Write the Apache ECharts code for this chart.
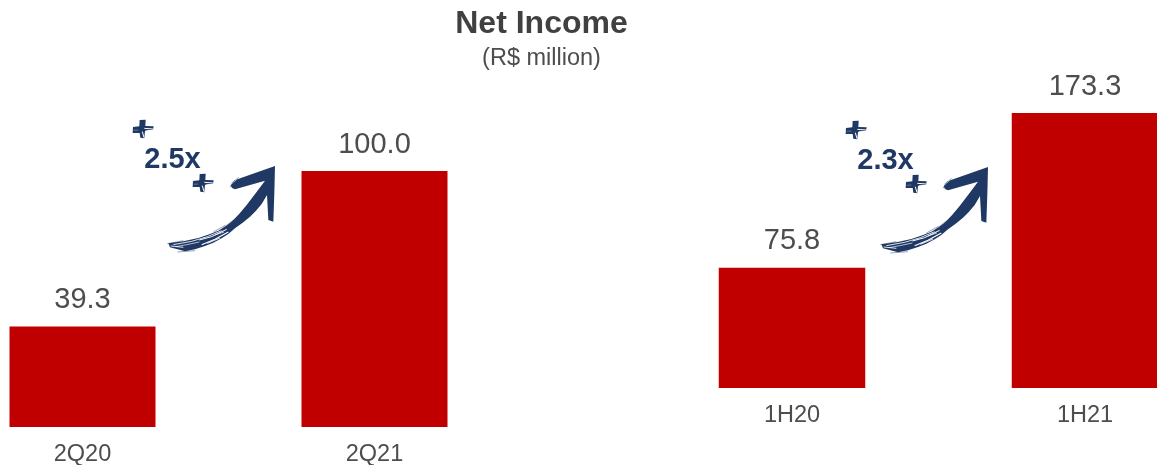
<!DOCTYPE html>
<html>
<head>
<meta charset="utf-8">
<style>html,body{margin:0;padding:0;background:#fff}#chart{width:1157px;height:465px}</style>
<script src="https://cdn.jsdelivr.net/npm/echarts@6/dist/echarts.min.js"></script>
</head>
<body>
<div id="chart"></div>
<script>
// Net income, quarter and half-year comparison (R$ million)
const quarterLabels = ['2Q20', '2Q21'];
const quarterValues = [39.3, 100.0];
const halfLabels = ['1H20', '1H21'];
const halfValues = [75.8, 173.3];
const quarterGrowth = '2.5x';
const halfGrowth = '2.3x';

const NAVY = '#1F3864';
const RED = '#C00000';
const TITLE = '#404040';
const TEXT = '#4D4D4D';
const FONT = '"Liberation Sans", Arial, sans-serif';

// Brush arrow outline, in units three times the screen size
const arrowBody = [
  [145,430],[190,424],[235,414],[268,403],[295,392],[318,378],[335,365],[358,341],[380,315],[408,278],[435,242],
  [345,268],[336,264],[332,256],[340,248],[352,238],[465,198],[464,240],[463,280],[460,365],[445,360],
  [441,285],[425,312],[408,332],[390,350],[368,368],[345,385],[325,402],[305,415],[280,428],[255,438],[225,448],[195,454],[150,442]
];
// Dry-brush gaps through the tail of the stroke
const arrowGaps = [
  [[160,434],[215,424],[262,410],[305,392]],
  [[168,440],[200,434],[238,426]],
  [[238,420],[275,410],[320,388]],
  [[245,434],[285,418],[325,396]],
  [[152,438],[190,442]],
  [[262,430],[300,414]],
  [[285,405],[312,396]]
];
const gapWidths = [2.5, 2, 3, 3.5, 2.5, 2.5, 2];
// Loose bristle marks around the tail and the start of the barb
const arrowBristles = [
  [[142,431],[190,422]], [[172,456],[225,452]], [[280,396],[316,376]], [[300,392],[340,360]],
  [[334,250],[356,232]], [[330,262],[345,240]], [[345,262],[352,238]]
];
// White flecks across the plus signs
const plusFlecks = [
  [[4,-2],[30,0]], [[-2,8],[3,26]], [[8,6],[26,4]]
];

function brushPlus(x, y) {
  const flecks = plusFlecks.map(points => ({
    type: 'polyline', shape: { points }, style: { stroke: '#fff', lineWidth: 3, fill: null }
  }));
  return {
    type: 'group', x, y, scaleX: 1 / 3, scaleY: 1 / 3,
    children: [
      { type: 'polygon', shape: { points: [[-30,-6],[-11,-8],[-10,-27],[8,-28],[7,-9],[32,-8],[30,2],[6,6],[4,28],[-8,26],[-10,12],[-31,12]] }, style: { fill: NAVY } },
      ...flecks,
      { type: 'polyline', shape: { points: [[-28,4],[-14,3]] }, style: { stroke: '#8090b0', lineWidth: 2, fill: null } }
    ]
  };
}

function brushArrow(x, y) {
  const gaps = arrowGaps.map((points, i) => ({
    type: 'polyline', shape: { points }, style: { stroke: '#fff', lineWidth: gapWidths[i], fill: null }
  }));
  const bristles = arrowBristles.map(points => ({
    type: 'polyline', shape: { points }, style: { stroke: NAVY, lineWidth: 2, fill: null, opacity: 0.7 }
  }));
  return {
    type: 'group', x, y, scaleX: 1 / 3, scaleY: 1 / 3,
    children: [{ type: 'polygon', shape: { points: arrowBody }, style: { fill: NAVY } }, ...gaps, ...bristles]
  };
}

function growthBadge(label, dx, dy) {
  return [
    brushArrow(120 + dx, 100 + dy),
    brushPlus(143 + dx, 129 + dy),
    brushPlus(203 + dx, 183 + dy),
    { type: 'text', x: 172.5 + dx, y: 160 + dy,
      style: { text: label, fill: NAVY, font: 'bold 29px ' + FONT, textAlign: 'center', textVerticalAlign: 'middle' } }
  ];
}

function barSeries(values, gridIndex) {
  return {
    type: 'bar', xAxisIndex: gridIndex, yAxisIndex: gridIndex, data: values, barWidth: '50%',
    itemStyle: { color: RED },
    label: { show: true, position: 'top', distance: 12, formatter: p => p.value.toFixed(1), color: TEXT, fontSize: 29, fontFamily: FONT },
    silent: true, animation: false
  };
}

function categoryAxis(labels, gridIndex) {
  return {
    type: 'category', gridIndex, data: labels,
    axisLine: { show: false }, axisTick: { show: false },
    axisLabel: { color: TEXT, fontSize: 23.5, fontFamily: FONT, margin: 16 }
  };
}

const chart = echarts.init(document.getElementById('chart'), null, { renderer: 'canvas' });
chart.setOption({
  animation: false,
  backgroundColor: '#fff',
  title: [
    { text: 'Net Income', left: 536.5, top: 3, textAlign: 'center', textStyle: { color: TITLE, fontSize: 32, fontWeight: 'bold', fontFamily: FONT } },
    { text: '(R$ million)', left: 536.5, top: 42, textAlign: 'center', textStyle: { color: TEXT, fontSize: 23.5, fontWeight: 'normal', fontFamily: FONT } }
  ],
  grid: [
    { left: -63.5, top: 171, width: 584, height: 256, outerBoundsMode: 'none' },
    { left: 645.5, top: 113, width: 586, height: 275, outerBoundsMode: 'none' }
  ],
  xAxis: [categoryAxis(quarterLabels, 0), categoryAxis(halfLabels, 1)],
  yAxis: [
    { type: 'value', gridIndex: 0, min: 0, max: 100, show: false },
    { type: 'value', gridIndex: 1, min: 0, max: 173.3, show: false }
  ],
  series: [barSeries(quarterValues, 0), barSeries(halfValues, 1)],
  graphic: [...growthBadge(quarterGrowth, 0, 0), ...growthBadge(halfGrowth, 713, 1)]
});
</script>
</body>
</html>
